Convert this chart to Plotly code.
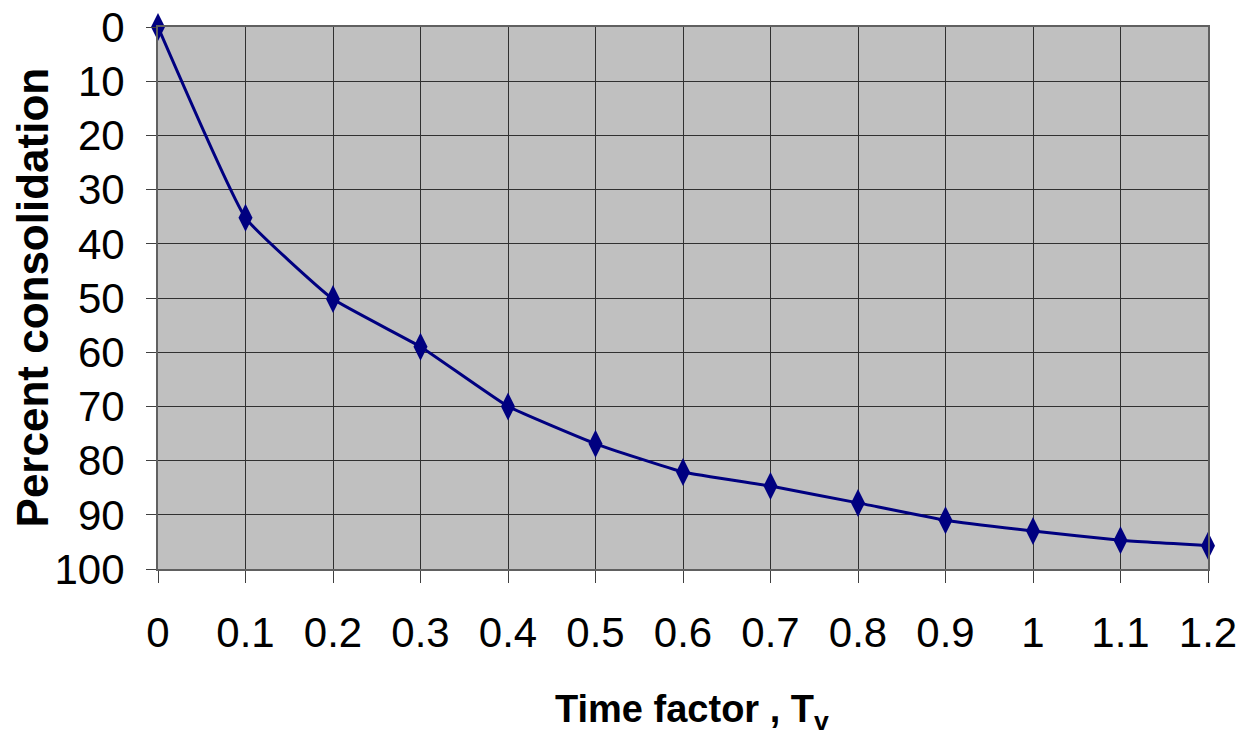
import plotly.graph_objects as go

time_factor = [0, 0.1, 0.2, 0.3, 0.4, 0.5, 0.6, 0.7, 0.8, 0.9, 1.0, 1.1, 1.2]
percent_consolidation = [0, 35.2, 50.2, 59.0, 70.0, 76.9, 82.1, 84.7, 87.8, 91.0, 93.0, 94.7, 95.7]
x_tick_vals = [0, 0.1, 0.2, 0.3, 0.4, 0.5, 0.6, 0.7, 0.8, 0.9, 1.0, 1.1, 1.2]
x_tick_text = ["0", "0.1", "0.2", "0.3", "0.4", "0.5", "0.6", "0.7", "0.8", "0.9", "1", "1.1", "1.2"]
y_tick_vals = [0, 10, 20, 30, 40, 50, 60, 70, 80, 90, 100]
x_title = "<b>Time factor , T<sub>v</sub></b>"
y_title = "<b>Percent consolidation</b>"

fig = go.Figure()
fig.add_trace(go.Scatter(
    x=time_factor, y=percent_consolidation,
    mode="lines+markers",
    line=dict(color="#000080", width=3, shape="spline", smoothing=0.35),
    marker=dict(symbol="diamond-tall", size=20, color="#000080"),
    showlegend=False,
    cliponaxis=False,
))

regular = "Liberation Sans, Arial, sans-serif"
fig.update_layout(
    width=1250, height=740,
    margin=dict(l=150, r=50, t=19, b=179),
    paper_bgcolor="white",
    plot_bgcolor="#C0C0C0",
    font=dict(family=regular, color="black", size=34),
)
fig.update_xaxes(
    range=[0, 1.2], automargin=False,
    tickmode="array", tickvals=x_tick_vals, ticktext=x_tick_text,
    showgrid=True, gridcolor="#303030", gridwidth=1,
    showline=True, linecolor="#606060", linewidth=2, mirror=True,
    ticks="outside", ticklen=12, tickcolor="#404040",
    ticklabelstandoff=14, ticklabeloverflow="allow",
    tickfont=dict(size=42, family=regular),
    zeroline=False,
)
fig.update_yaxes(
    range=[100, 0], automargin=False,
    tickmode="array", tickvals=y_tick_vals,
    showgrid=True, gridcolor="#303030", gridwidth=1,
    showline=True, linecolor="#606060", linewidth=2, mirror=True,
    ticks="outside", ticklen=10, tickcolor="#404040",
    ticklabelstandoff=13, ticklabeloverflow="allow",
    tickfont=dict(size=42, family=regular),
    zeroline=False,
)
fig.add_annotation(
    text=x_title, xref="paper", yref="paper", x=0.5086, y=0,
    xanchor="center", yanchor="middle", yshift=-143, showarrow=False,
    font=dict(size=38, family=regular),
)
fig.add_annotation(
    text=y_title, xref="paper", yref="paper", x=0, y=0.501,
    xanchor="center", yanchor="middle", xshift=-126, textangle=-90, showarrow=False,
    font=dict(size=44, family=regular),
)

fig.write_html("out.html")
